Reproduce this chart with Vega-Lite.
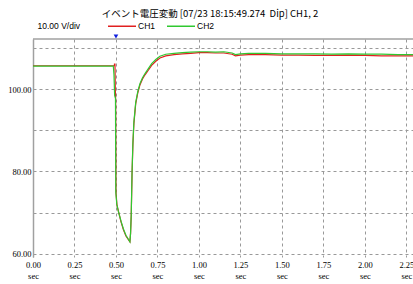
{
  "$schema": "https://vega.github.io/schema/vega-lite/v6.json",
  "width": 380,
  "height": 218,
  "autosize": {"type": "none"},
  "padding": {"left": 33, "top": 39, "right": 0, "bottom": 27},
  "background": "white",
  "config": {"view": {"stroke": null}, "font": "Liberation Sans"},
  "title": {"text": "イベント電圧変動 [07/23 18:15:49.274\u00a0 Dip] CH1, 2", "fontSize": 9.5, "fontWeight": "normal", "color": "#000", "offset": 0, "dy": 7, "dx": -13, "anchor": "middle", "font": "Noto Sans CJK JP"},
  "datasets": {
    "sig": [
      {"t": 0, "v": 105.7, "ch": "CH1"}, {"t": 0.49, "v": 105.7, "ch": "CH1"}, {"t": 0.491, "v": 106.1, "ch": "CH1"}, {"t": 0.494, "v": 106.1, "ch": "CH1"}, {"t": 0.496, "v": 100, "ch": "CH1"}, {"t": 0.498, "v": 97.5, "ch": "CH1"}, {"t": 0.5, "v": 75, "ch": "CH1"}, {"t": 0.506, "v": 71.8, "ch": "CH1"}, {"t": 0.516, "v": 70.1, "ch": "CH1"}, {"t": 0.53, "v": 67.8, "ch": "CH1"}, {"t": 0.545, "v": 65.8, "ch": "CH1"}, {"t": 0.56, "v": 64.3, "ch": "CH1"}, {"t": 0.575, "v": 63.4, "ch": "CH1"}, {"t": 0.584, "v": 62.9, "ch": "CH1"}, {"t": 0.588, "v": 65, "ch": "CH1"}, {"t": 0.592, "v": 69.3, "ch": "CH1"}, {"t": 0.597, "v": 79.5, "ch": "CH1"}, {"t": 0.602, "v": 86.5, "ch": "CH1"}, {"t": 0.608, "v": 91.6, "ch": "CH1"}, {"t": 0.619, "v": 96.5, "ch": "CH1"}, {"t": 0.632, "v": 99.2, "ch": "CH1"}, {"t": 0.645, "v": 101.1, "ch": "CH1"}, {"t": 0.66, "v": 102.5, "ch": "CH1"}, {"t": 0.675, "v": 103.5, "ch": "CH1"}, {"t": 0.695, "v": 104.6, "ch": "CH1"}, {"t": 0.715, "v": 105.8, "ch": "CH1"}, {"t": 0.74, "v": 106.8, "ch": "CH1"}, {"t": 0.765, "v": 107.6, "ch": "CH1"}, {"t": 0.8, "v": 108.1, "ch": "CH1"}, {"t": 0.85, "v": 108.4, "ch": "CH1"}, {"t": 0.9, "v": 108.6, "ch": "CH1"}, {"t": 0.95, "v": 108.7, "ch": "CH1"}, {"t": 1.0, "v": 108.9, "ch": "CH1"}, {"t": 1.05, "v": 108.9, "ch": "CH1"}, {"t": 1.1, "v": 108.8, "ch": "CH1"}, {"t": 1.15, "v": 108.8, "ch": "CH1"}, {"t": 1.2, "v": 108.5, "ch": "CH1"}, {"t": 1.22, "v": 108.1, "ch": "CH1"}, {"t": 1.25, "v": 108.3, "ch": "CH1"}, {"t": 1.3, "v": 108.4, "ch": "CH1"}, {"t": 1.4, "v": 108.4, "ch": "CH1"}, {"t": 1.5, "v": 108.3, "ch": "CH1"}, {"t": 1.6, "v": 108.3, "ch": "CH1"}, {"t": 1.7, "v": 108.2, "ch": "CH1"}, {"t": 1.8, "v": 108.2, "ch": "CH1"}, {"t": 1.9, "v": 108.3, "ch": "CH1"}, {"t": 2.0, "v": 108.2, "ch": "CH1"}, {"t": 2.1, "v": 108.1, "ch": "CH1"}, {"t": 2.2, "v": 108.1, "ch": "CH1"}, {"t": 2.29, "v": 108.1, "ch": "CH1"},
      {"t": 0, "v": 105.6, "ch": "CH2"}, {"t": 0.484, "v": 105.6, "ch": "CH2"}, {"t": 0.488, "v": 103.5, "ch": "CH2"}, {"t": 0.492, "v": 98.5, "ch": "CH2"}, {"t": 0.497, "v": 97.8, "ch": "CH2"}, {"t": 0.499, "v": 75, "ch": "CH2"}, {"t": 0.505, "v": 72, "ch": "CH2"}, {"t": 0.514, "v": 70.4, "ch": "CH2"}, {"t": 0.53, "v": 68, "ch": "CH2"}, {"t": 0.545, "v": 66, "ch": "CH2"}, {"t": 0.56, "v": 64.5, "ch": "CH2"}, {"t": 0.575, "v": 63.5, "ch": "CH2"}, {"t": 0.584, "v": 62.9, "ch": "CH2"}, {"t": 0.588, "v": 65, "ch": "CH2"}, {"t": 0.592, "v": 69.5, "ch": "CH2"}, {"t": 0.597, "v": 80, "ch": "CH2"}, {"t": 0.602, "v": 87, "ch": "CH2"}, {"t": 0.608, "v": 92, "ch": "CH2"}, {"t": 0.619, "v": 96.8, "ch": "CH2"}, {"t": 0.632, "v": 99.5, "ch": "CH2"}, {"t": 0.645, "v": 101.4, "ch": "CH2"}, {"t": 0.66, "v": 102.8, "ch": "CH2"}, {"t": 0.675, "v": 103.8, "ch": "CH2"}, {"t": 0.695, "v": 105, "ch": "CH2"}, {"t": 0.715, "v": 106.2, "ch": "CH2"}, {"t": 0.74, "v": 107.2, "ch": "CH2"}, {"t": 0.765, "v": 108, "ch": "CH2"}, {"t": 0.8, "v": 108.5, "ch": "CH2"}, {"t": 0.85, "v": 108.7, "ch": "CH2"}, {"t": 0.9, "v": 108.9, "ch": "CH2"}, {"t": 0.95, "v": 109, "ch": "CH2"}, {"t": 1.0, "v": 109.1, "ch": "CH2"}, {"t": 1.05, "v": 109.1, "ch": "CH2"}, {"t": 1.1, "v": 109.0, "ch": "CH2"}, {"t": 1.15, "v": 109.1, "ch": "CH2"}, {"t": 1.2, "v": 108.8, "ch": "CH2"}, {"t": 1.22, "v": 108.4, "ch": "CH2"}, {"t": 1.25, "v": 108.6, "ch": "CH2"}, {"t": 1.3, "v": 108.7, "ch": "CH2"}, {"t": 1.4, "v": 108.7, "ch": "CH2"}, {"t": 1.5, "v": 108.6, "ch": "CH2"}, {"t": 1.6, "v": 108.6, "ch": "CH2"}, {"t": 1.7, "v": 108.6, "ch": "CH2"}, {"t": 1.8, "v": 108.5, "ch": "CH2"}, {"t": 1.9, "v": 108.6, "ch": "CH2"}, {"t": 2.0, "v": 108.5, "ch": "CH2"}, {"t": 2.1, "v": 108.5, "ch": "CH2"}, {"t": 2.2, "v": 108.4, "ch": "CH2"}, {"t": 2.29, "v": 108.4, "ch": "CH2"}
    ],
    "marker": [{"t": 0.5, "v": 112.8}],
    "top": [{"v": 112.2}]
  },
  "layer": [
    {
      "data": {"name": "top"},
      "mark": {"type": "rule", "color": "#a0a0a0", "strokeWidth": 1.5},
      "encoding": {"y": {"field": "v", "type": "quantitative", "scale": {"domain": [59.2, 112.2], "nice": false, "zero": false}}}
    },
    {
      "data": {"name": "sig"},
      "mark": {"type": "line", "strokeWidth": 1.2, "interpolate": "linear", "clip": true},
      "encoding": {
        "x": {"field": "t", "type": "quantitative",
          "scale": {"domain": [0, 2.29], "nice": false, "zero": false},
          "axis": {"values": [0, 0.25, 0.5, 0.75, 1, 1.25, 1.5, 1.75, 2, 2.25], "labelExpr": "[format(datum.value, '.2f'), 'sec']", "labelFontSize": 8.5, "labelColor": "#000", "labelFont": "Liberation Sans Narrow", "labelLineHeight": 11, "labelPadding": 3, "ticks": false, "domain": false, "title": null, "gridColor": "#999", "gridDash": [3, 3], "gridWidth": 1, "labelFlush": false}
        },
        "y": {"field": "v", "type": "quantitative",
          "scale": {"domain": [59.2, 112.2], "nice": false, "zero": false},
          "axis": {"values": [60, 70, 80, 90, 100, 110], "labelExpr": "datum.value % 20 == 0 ? format(datum.value, '.2f') : ''", "labelFontSize": 8.5, "labelColor": "#000", "labelFont": "Liberation Sans Narrow", "labelPadding": 2, "ticks": false, "domainColor": "#a0a0a0", "domainWidth": 1.5, "gridColor": "#999", "gridDash": [3, 3], "gridWidth": 1, "title": "10.00 V/div", "titleAngle": 0, "titleFontSize": 8.5, "titleFontWeight": "normal", "titleFont": "Liberation Sans", "titleColor": "#000", "titleX": 4, "titleY": -14, "titleAlign": "left", "titleBaseline": "middle"}
        },
        "color": {"field": "ch", "type": "nominal",
          "scale": {"domain": ["CH1", "CH2"], "range": ["#e02020", "#30c830"]},
          "legend": {"orient": "none", "legendX": 74, "legendY": -28, "direction": "horizontal", "title": null, "symbolType": "stroke", "symbolSize": 784, "symbolStrokeWidth": 1.5, "labelFontSize": 8.5, "labelFont": "Liberation Sans", "labelColor": "#000", "labelOffset": 1, "columnPadding": 8, "padding": 0}
        }
      }
    },
    {
      "data": {"name": "marker"},
      "mark": {"type": "point", "shape": "triangle-down", "filled": true, "color": "#1020e0", "size": 22, "opacity": 1, "clip": false},
      "encoding": {
        "x": {"field": "t", "type": "quantitative"},
        "y": {"field": "v", "type": "quantitative"}
      }
    }
  ]
}
